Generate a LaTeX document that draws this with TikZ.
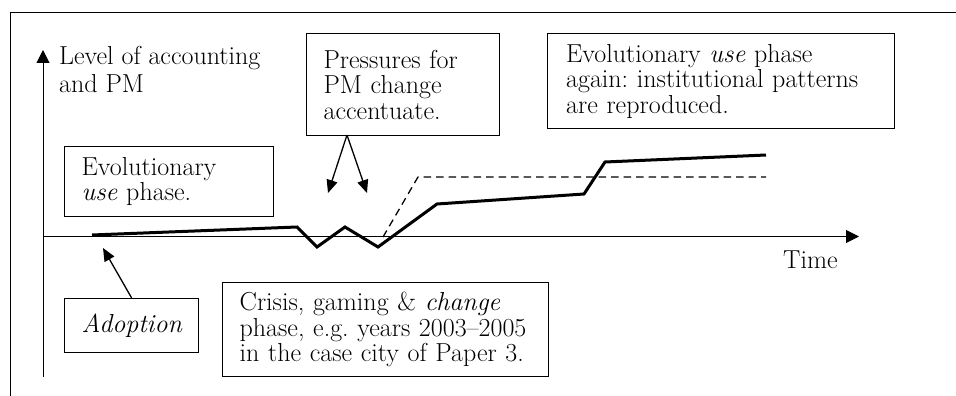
\documentclass[tikz,border=0pt]{standalone}
\usetikzlibrary{arrows.meta}
\frenchspacing
\begin{document}
\begin{tikzpicture}[x=1pt,y=-1pt,
  font=\fontsize{26}{25.5}\selectfont,
  txtbox/.style={draw, line width=1.3pt, anchor=north west, align=left,
    inner xsep=17pt, inner ysep=0pt},
  thinline/.style={line width=1pt},
  bigtip/.style={-{Triangle[length=13pt,width=13pt]}},
  smalltip/.style={line width=1.3pt,-{Triangle[length=13pt,width=11pt]}},
  curve/.style={line width=3pt, line join=miter},
  ideal/.style={line width=1.3pt, dash pattern=on 7.5pt off 5pt}]
\useasboundingbox (0,0) rectangle (956,396);
% frame
\coordinate (f1) at (10.5,396);
\coordinate (f2) at (10.5,12.5);
\coordinate (f3) at (956,12.5);
\draw[thinline] (f1) -- (f2) -- (f3);
% axes
\coordinate (yb) at (43,377);
\coordinate (yt) at (43,50);
\coordinate (xl) at (43,236.5);
\coordinate (xr) at (859,236.5);
\draw[thinline,bigtip] (yb) -- (yt);
\draw[thinline,bigtip] (xl) -- (xr);
\node[anchor=north west, inner sep=0pt, align=left, font=\fontsize{26}{28}\selectfont] (ylab) at (59,46.5) {Level of accounting\\and PM};
\node[anchor=base west, inner sep=0pt] (xlab) at (783,268) {Time};
% boxes
\node[txtbox, text width=175pt, minimum height=70pt] (evo1) at (64,146) {Evolutionary\\\textit{use} phase.};
\node[txtbox, text width=100pt, minimum height=54pt] (adopt) at (64,298) {\textit{Adoption}};
\node[txtbox, text width=292pt, minimum height=94pt] (crisis) at (222,282) {Crisis, gaming \& \textit{change}\\phase, e.g. years 2003–2005\\in the case city of Paper 3.};
\node[txtbox, text width=159pt, minimum height=102pt] (press) at (306,33) {Pressures for\\PM change\\accentuate.};
\node[txtbox, text width=310pt, inner xsep=18.5pt, minimum height=95pt] (evo2) at (547,33) {Evolutionary \textit{use} phase\\again: institutional patterns\\are reproduced.};
% arrows from boxes
\coordinate (ps) at (347,135);
\coordinate (pt1) at (328,193);
\coordinate (pt2) at (367,193);
\draw[smalltip] (ps) -- (pt1);
\draw[smalltip] (ps) -- (pt2);
\coordinate (at) at (103,248);
\draw[smalltip] (adopt.north) -- (at);
% curves
\coordinate (c0) at (92,235);
\coordinate (c1) at (297,227);
\coordinate (c2) at (317,247);
\coordinate (c3) at (345,227);
\coordinate (c4) at (378,247);
\coordinate (c5) at (437,204);
\coordinate (c6) at (584,194);
\coordinate (c7) at (605,162);
\coordinate (c8) at (766,155);
\draw[curve] (c0) -- (c1) -- (c2) -- (c3) -- (c4) -- (c5) -- (c6) -- (c7) -- (c8);
\coordinate (d0) at (383,237);
\coordinate (d1) at (418,177);
\coordinate (d2) at (766,177);
\draw[ideal] (d0) -- (d1) -- (d2);
\end{tikzpicture}
\end{document}
